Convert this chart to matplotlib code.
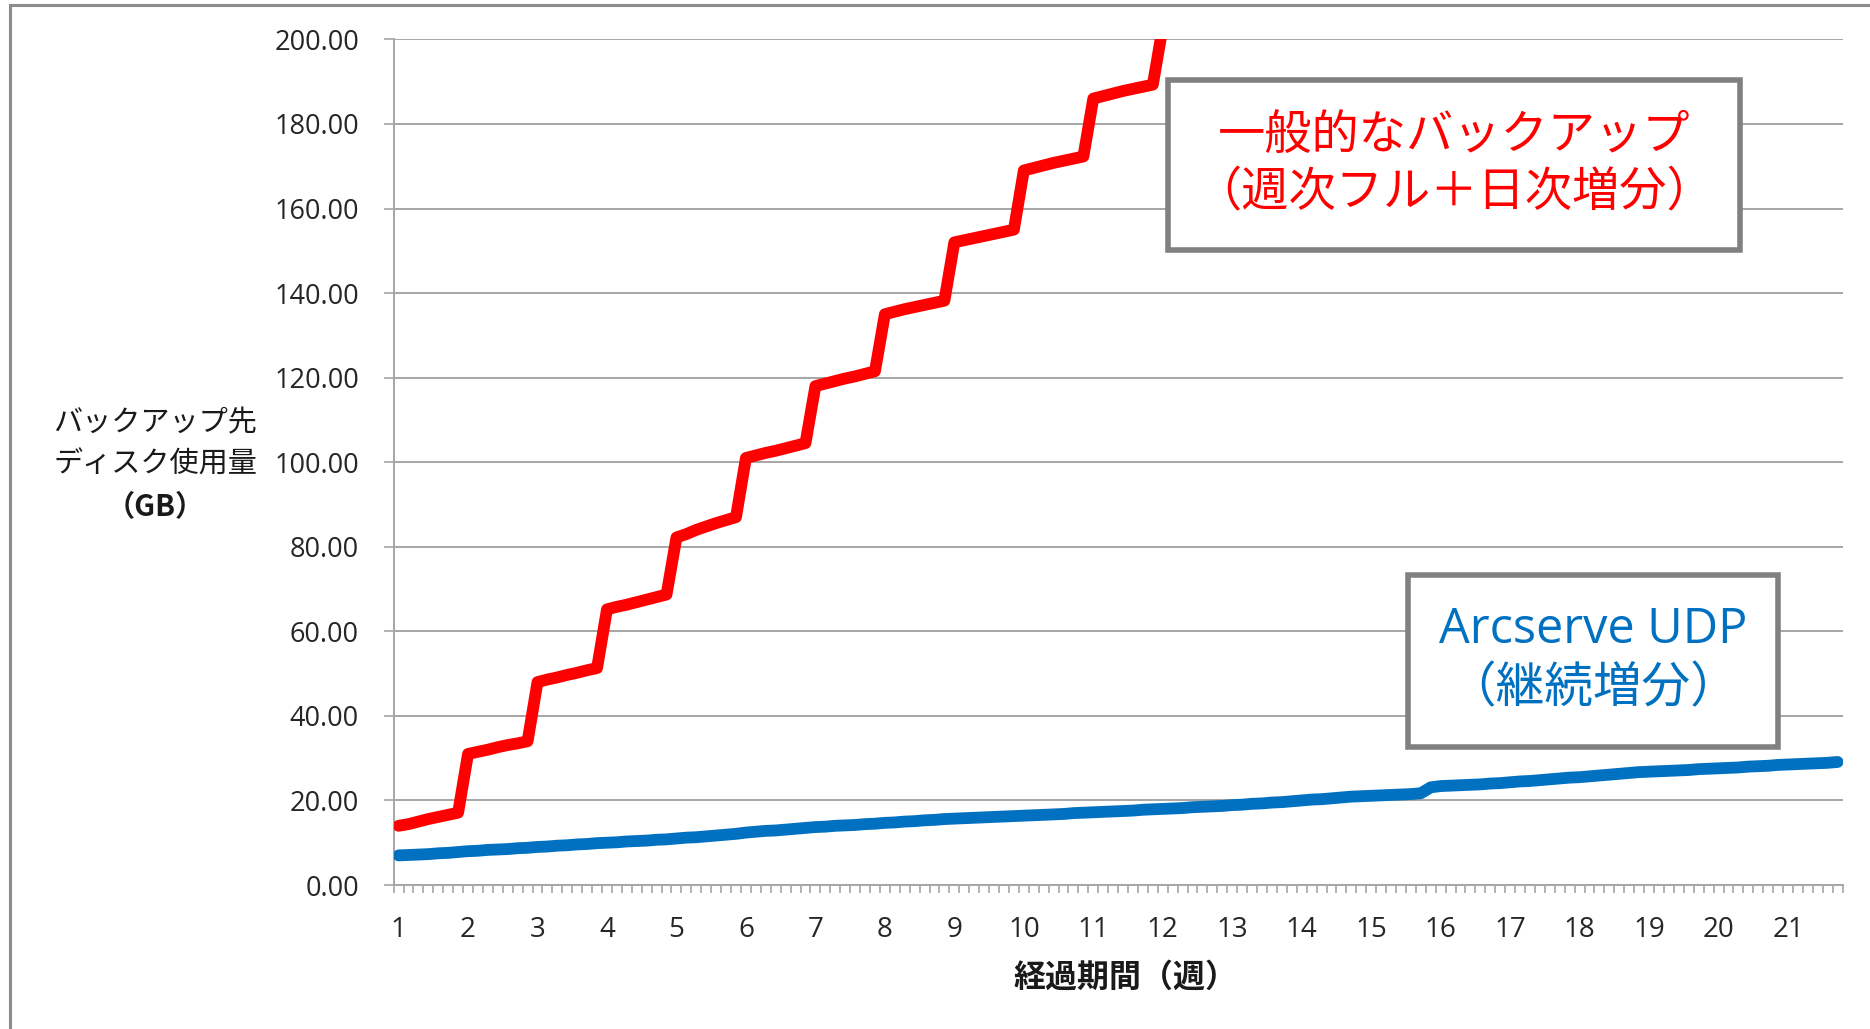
import matplotlib
matplotlib.use('Agg')
import matplotlib.pyplot as plt
from matplotlib.patches import Rectangle
from matplotlib.ticker import FixedLocator, FuncFormatter

plt.rcParams['font.family'] = ['Open Sans', 'Noto Sans CJK JP', 'DejaVu Sans']
JP = ['Noto Sans CJK JP', 'DejaVu Sans']

# daily disk usage (GB), one value per day, 7 days per week
# conventional backup: weekly full + daily incremental (goes off the chart in week 12)
normal_backup = [
    14.0, 14.4, 15.0, 15.6, 16.1, 16.6, 17.1,
    31.0, 31.5, 32.0, 32.6, 33.1, 33.5, 34.0,
    48.0, 48.6, 49.1, 49.7, 50.2, 50.8, 51.3,
    65.2, 65.8, 66.3, 66.9, 67.5, 68.1, 68.7,
    82.2, 83.0, 84.0, 84.8, 85.6, 86.3, 87.0,
    101.0, 101.6, 102.2, 102.7, 103.3, 103.9, 104.5,
    118.0, 118.6, 119.2, 119.8, 120.3, 120.9, 121.5,
    135.0, 135.6, 136.2, 136.7, 137.2, 137.7, 138.2,
    152.0, 152.5, 153.0, 153.5, 154.0, 154.5, 155.0,
    169.0, 169.6, 170.2, 170.8, 171.3, 171.8, 172.3,
    186.0, 186.6, 187.2, 187.8, 188.3, 188.8, 189.3,
    203.0,
]

# Arcserve UDP: incremental forever
udp_backup = [
    7.0, 7.1, 7.2, 7.3, 7.5, 7.6, 7.8,
    8.0, 8.1, 8.3, 8.4, 8.5, 8.7, 8.8,
    9.0, 9.1, 9.3, 9.4, 9.6, 9.7, 9.9,
    10.0, 10.1, 10.3, 10.4, 10.5, 10.7, 10.8,
    11.0, 11.2, 11.3, 11.5, 11.7, 11.9, 12.1,
    12.4, 12.6, 12.8, 12.9, 13.1, 13.3, 13.5,
    13.7, 13.8, 14.0, 14.1, 14.2, 14.4, 14.5,
    14.7, 14.8, 15.0, 15.1, 15.3, 15.4, 15.6,
    15.7, 15.8, 15.9, 16.0, 16.1, 16.2, 16.3,
    16.4, 16.5, 16.6, 16.7, 16.8, 17.0, 17.1,
    17.2, 17.3, 17.4, 17.5, 17.6, 17.8, 17.9,
    18.0, 18.1, 18.2, 18.4, 18.5, 18.6, 18.7,
    18.9, 19.0, 19.2, 19.3, 19.5, 19.6, 19.8,
    20.0, 20.2, 20.3, 20.5, 20.7, 20.9, 21.0,
    21.1, 21.2, 21.3, 21.4, 21.5, 21.7, 23.1,
    23.4, 23.5, 23.6, 23.7, 23.8, 24.0, 24.1,
    24.3, 24.5, 24.6, 24.8, 25.0, 25.2, 25.4,
    25.5, 25.7, 25.9, 26.1, 26.3, 26.5, 26.7,
    26.8, 26.9, 27.0, 27.1, 27.2, 27.4, 27.5,
    27.6, 27.7, 27.8, 28.0, 28.1, 28.2, 28.4,
    28.5, 28.6, 28.7, 28.8, 28.9, 29.1,
]

week_labels = [str(w) for w in range(1, 22)]
y_ticks = [0, 20, 40, 60, 80, 100, 120, 140, 160, 180, 200]

W, H = 1870, 1029
fig = plt.figure(figsize=(W / 100, H / 100), dpi=100)
fig.patch.set_facecolor('white')

# outer chart border (runs off the right / bottom edge)
fig.add_artist(Rectangle((10 / W, -0.05), 1.2, 1 - 5 / H + 0.05,
                         transform=fig.transFigure, fill=False,
                         edgecolor='#8c8c8c', linewidth=2.2))

ax = fig.add_axes([393.6 / W, 1 - 885 / H, (1842.6 - 393.6) / W, (885 - 39.4) / H])

grid_col = '#a6a6a6'
n_days = len(udp_backup)
ax.set_xlim(-0.5, n_days - 0.5)
ax.set_ylim(0, 200)

ax.plot(range(len(normal_backup)), normal_backup, color='#ff0000', linewidth=8.5,
        solid_capstyle='round', solid_joinstyle='round', zorder=3)
ax.plot(range(n_days), udp_backup, color='#0070c0', linewidth=8.5,
        solid_capstyle='round', solid_joinstyle='round', zorder=3)

# y axis
ax.set_yticks(y_ticks)
ax.yaxis.set_major_formatter(FuncFormatter(lambda v, p: f'{v:.2f}'))
ax.grid(axis='y', color=grid_col, linewidth=1.4)
ax.set_axisbelow(True)
ax.tick_params(axis='y', length=7, width=1.2, color=grid_col, pad=18,
               labelsize=19.5, labelcolor='#262626')

# x axis: one minor tick per day, label every week
ax.xaxis.set_minor_locator(FixedLocator([i - 0.5 for i in range(n_days + 1)]))
ax.set_xticks(list(range(0, n_days, 7)))
ax.set_xticklabels(week_labels)
ax.tick_params(axis='x', which='major', length=0, pad=22, labelsize=20,
               labelcolor='#262626')
ax.tick_params(axis='x', which='minor', length=6, width=1.2, color=grid_col)

for s in ['top', 'right']:
    ax.spines[s].set_visible(False)
for s in ['left', 'bottom']:
    ax.spines[s].set_color(grid_col)
    ax.spines[s].set_linewidth(1.4)

# axis titles
fig.text(155 / W, 1 - 444 / H, 'バックアップ先\nディスク使用量', ha='center', va='center',
         family=JP, fontsize=21, linespacing=1.5, color='#1a1a1a')
fig.text(155 / W, 1 - 507 / H, '（GB）', ha='center', va='center', family=JP,
         fontsize=21, fontweight='bold', color='#1a1a1a')
fig.text(1125 / W, 1 - 978 / H, '経過期間（週）', ha='center', va='center', family=JP,
         fontsize=23, fontweight='bold', color='#1a1a1a')

# annotation boxes
def note(x0, y0, x1, y1, text, color, size):
    fig.add_artist(Rectangle((x0 / W, 1 - y1 / H), (x1 - x0) / W, (y1 - y0) / H,
                             transform=fig.transFigure, facecolor='white',
                             edgecolor='#808080', linewidth=4, zorder=5))
    fig.text((x0 + x1) / 2 / W, 1 - ((y0 + y1) / 2 - 1) / H, text, ha='center',
             va='center', fontsize=size, color=color, linespacing=1.25, zorder=6)

note(1168, 80, 1740, 250, '一般的なバックアップ\n（週次フル＋日次増分）', '#ff0000', 34)
note(1408, 575, 1778, 747, 'Arcserve UDP\n（継続増分）', '#0070c0', 35)

fig.savefig('out.png', dpi=100)
